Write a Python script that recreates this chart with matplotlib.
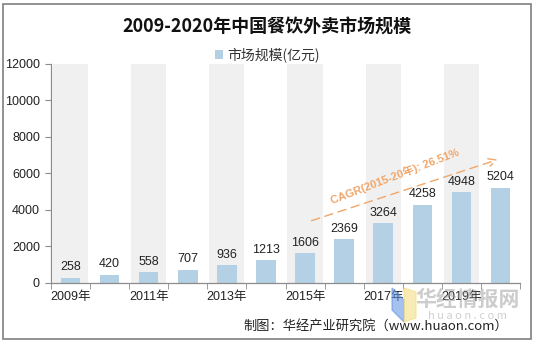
import matplotlib
matplotlib.use("Agg")
import matplotlib.pyplot as plt
from matplotlib.patches import Rectangle, Polygon

plt.rcParams['font.family'] = ['Noto Sans CJK SC', 'DejaVu Sans']
latin = ['Liberation Sans', 'Noto Sans CJK SC', 'DejaVu Sans']

years = [2009, 2010, 2011, 2012, 2013, 2014, 2015, 2016, 2017, 2018, 2019, 2020]
market_size = [258, 420, 558, 707, 936, 1213, 1606, 2369, 3264, 4258, 4948, 5204]
tick_labels = [f"{y}年" if y % 2 == 1 else "" for y in years]
y_ticks = [0, 2000, 4000, 6000, 8000, 10000, 12000]
y_max = 12000
cagr_text = "CAGR(2015-20年): 26.51%"

bar_color = "#b4d0e4"
band_color = "#f0f0f0"
axis_color = "#8c8c8c"
orange = "#f0a66a"

fig = plt.figure(figsize=(5.34, 3.44), dpi=100)
ax = fig.add_axes([51 / 534, 1 - 282.5 / 344, 469 / 534, (282.5 - 64) / 344])

x = list(range(len(years)))
# alternating background bands
band_x = [i for i, y in enumerate(years) if y % 2 == 1]
ax.bar(band_x, [y_max] * len(band_x), width=0.9, color=band_color, zorder=1)
ax.bar(x, market_size, width=0.5, color=bar_color, zorder=2,
       label="市场规模(亿元)")
for xi, v in zip(x, market_size):
    ax.text(xi, v + 250, f"{v}", ha="center", va="bottom", fontsize=9,
            color="#222222", family=latin, zorder=3)

ax.set_xlim(-0.5, len(years) - 0.5)
ax.set_ylim(0, y_max)
ax.set_yticks(y_ticks)
ax.set_yticklabels([str(t) for t in y_ticks], fontsize=9, family=latin,
                   color="#222222")
ax.set_xticks([i - 0.5 for i in range(len(years) + 1)], minor=True)
ax.set_xticks(x)
ax.set_xticklabels(tick_labels, fontsize=9, color="#222222", family=latin)
ax.tick_params(axis="x", which="major", length=0, pad=6)
ax.tick_params(axis="x", which="minor", length=4, color=axis_color)
ax.tick_params(axis="y", length=4, color=axis_color, pad=4)
for s in ["top", "right"]:
    ax.spines[s].set_visible(False)
for s in ["left", "bottom"]:
    ax.spines[s].set_color(axis_color)
    ax.spines[s].set_linewidth(0.9)

# growth arrow and label
ax.annotate("", xy=(11.0, 6800), xytext=(6.1, 3350),
            arrowprops=dict(arrowstyle="->", color=orange, lw=1.0,
                            linestyle=(0, (6, 4)), mutation_scale=14),
            zorder=4)
ax.text(8.3, 5850, cagr_text, rotation=21, ha="center", va="center",
        fontsize=8, fontweight="bold", color=orange, zorder=4,
        family=latin, rotation_mode="anchor")

# title and legend
fig.text(0.5, 1 - 27 / 344, "2009-2020年中国餐饮外卖市场规模", ha="center",
         va="center", fontsize=13, fontweight="bold", color="#111111")
leg = ax.legend(loc="center", bbox_to_anchor=(0.5, 1 - 55 / 344),
                bbox_transform=fig.transFigure, frameon=False, fontsize=10,
                handlelength=0.6, handleheight=0.6, handletextpad=0.3)
for t in leg.get_texts():
    t.set_color("#333333")

# watermark
fig.patches.append(Polygon([[392 / 534, 1 - 288 / 344], [404 / 534, 1 - 300 / 344],
                            [404 / 534, 1 - 322 / 344], [392 / 534, 1 - 310 / 344]],
                           closed=True, transform=fig.transFigure,
                           color="#5b8fe0", alpha=0.55, zorder=5))
fig.patches.append(Polygon([[404 / 534, 1 - 288 / 344], [416 / 534, 1 - 292 / 344],
                            [416 / 534, 1 - 318 / 344], [404 / 534, 1 - 322 / 344]],
                           closed=True, transform=fig.transFigure,
                           color="#f5dc7a", alpha=0.55, zorder=5))
fig.text(468 / 534, 1 - 299 / 344, "华经情报网", ha="center", va="center",
         fontsize=15, fontweight="bold", color="#9a9a9a", alpha=0.5, zorder=6)
fig.text(468 / 534, 1 - 316 / 344, "h u a o n . c o m", ha="center", va="center",
         fontsize=8, color="#b0b0b0", alpha=0.6, zorder=6)

# source note
fig.text(508 / 534, 1 - 326 / 344, "制图：华经产业研究院（www.huaon.com）",
         ha="right", va="center", fontsize=9.5, color="#222222", zorder=7)

# outer frame
fig.patches.append(Rectangle((3 / 534, 1 - 339 / 344), 528 / 534, 335.5 / 344,
                             transform=fig.transFigure, fill=False,
                             edgecolor="#7f7f7f", lw=1.2, zorder=8))

fig.savefig("out.png", dpi=100)
